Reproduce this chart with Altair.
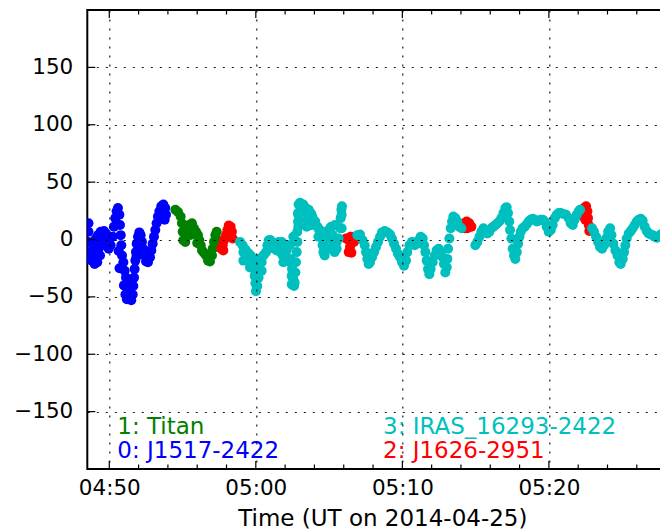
import altair as alt
import pandas as pd

# ---- data (time in minutes after 04:00 UT, value) ----
src_names = ["0: J1517-2422", "1: Titan", "2: J1626-2951", "3: IRAS_16293-2422"]
src_colors = ["#0000ff", "#008000", "#ff0000", "#00bfbf"]

blue = [(48.58,14.2),(48.58,6.8),(48.58,-2.1),(48.60,-11.0),(48.64,-16.9),(48.82,-18.4),(48.96,-5.0),
        (49.00,-21.3),(49.09,0.9),(49.18,-19.8),(49.23,3.8),(49.37,-13.9),(49.41,6.8),(49.46,-5.0),
        (49.55,2.4),(49.64,7.4),(49.78,5.3),(49.87,-2.1),(49.96,-8.0),(50.09,-5.0),(50.23,2.4),
        (50.32,11.2),(50.41,18.6),(50.50,24.6),(50.59,27.5),(50.69,21.6),(50.73,12.7),(50.78,3.8),
        (50.82,-5.0),(50.87,-13.9),(50.96,-19.8),(51.05,-27.2),(51.14,-33.2),(51.23,-39.1),
        (51.32,-43.5),(51.41,-49.4),(51.50,-53.0),(51.60,-48.0),(51.64,-40.6),(51.69,-33.2),
        (51.73,-25.8),(51.78,-18.4),(51.82,-11.0),(51.87,-3.6),(51.96,2.4),(52.05,6.2),(52.14,3.8),
        (52.23,-2.1),(52.32,-8.0),(52.41,-13.9),(52.51,-19.2),(52.64,-19.8),(52.78,-15.4),
        (52.87,-9.5),(52.96,-3.6),(53.05,2.4),(53.14,8.3),(53.23,14.2),(53.32,20.1),(53.42,24.6),
        (53.55,29.0),(53.69,30.5),(53.82,27.5),(53.87,21.6),(53.78,17.2),
        (49.05,-12.0),(49.28,-8.0),(50.64,-10.0),(50.70,-25.0),(51.00,-40.0),(51.10,-48.0),
        (51.20,-52.0),(51.85,-15.0),(52.00,-8.0),(52.70,-12.0)]

green = [(54.51,26.0),(54.69,24.0),(54.87,20.1),(54.96,14.2),(55.01,6.8),(55.05,-0.6),(55.19,-2.1),
         (55.33,5.3),(55.46,12.7),(55.64,14.2),(55.78,9.8),(55.92,6.8),(56.05,3.8),(56.15,-0.6),
         (56.24,-5.0),(56.33,-9.5),(56.46,-11.5),(56.60,-13.9),(56.74,-18.4),(56.87,-19.2),
         (57.01,-13.9),(57.06,-8.0),(57.15,-2.1),(57.24,3.8),(57.33,6.8),(57.42,-0.6),(57.46,-6.5),
         (55.10,8.0),(55.25,12.0),(55.55,4.0),(56.00,-3.0)]

red = [(57.65,-8.0),(57.74,-5.0),(57.78,-9.5),(57.83,-0.6),(57.97,3.8),(58.06,8.3),(58.15,12.1),
       (58.28,11.2),(58.37,6.8),(58.42,0.9),
       (66.15,0.9),(66.34,-0.6),(66.52,-2.1),(66.43,-6.5),(66.34,-11.0),(66.52,-11.5),(66.70,-2.1),
       (66.47,2.4),
       (74.21,14.2),(74.39,15.7),(74.57,14.2),(74.71,11.2),(74.44,9.8),(74.25,9.8),
       (82.36,20.1),(82.40,27.5),(82.49,17.2),(82.54,29.0),(82.63,24.6),(82.67,18.6),(82.72,12.7),
       (82.76,7.4),
       (88.09,-0.6),(88.22,-2.1)]

cyan = [(58.92,-2.1),(59.10,-5.0),(59.28,-8.6),(59.47,-11.5),(59.65,-13.9),(59.79,-18.4),(59.88,-24.3),
        (59.92,-31.7),(59.97,-38.2),(60.01,-45.0),(60.10,-40.6),(60.19,-33.2),(60.24,-25.8),
        (60.33,-19.8),(60.42,-15.4),(60.56,-13.3),(60.70,-11.0),(60.79,-5.0),(60.88,-0.6),
        (61.01,-0.6),(61.15,-5.0),(61.29,-8.0),(61.42,-5.0),(61.56,-2.1),(61.70,-4.4),(61.83,-8.0),
        (61.97,-11.0),(61.70,-11.0),(61.83,-13.9),(61.97,-12.4),(62.11,-9.5),(62.24,-5.0),
        (62.38,-16.9),(62.47,-25.8),(62.56,-34.6),(62.61,-40.6),(62.65,-37.6),(62.70,-28.7),
        (62.74,-19.8),(62.79,-11.0),(62.83,-2.1),(62.83,6.8),(62.88,15.7),(62.88,23.1),(62.92,30.5),
        (63.02,32.0),(63.24,30.5),(63.42,27.5),(63.61,26.0),(63.74,23.1),(63.88,18.6),(63.70,14.2),
        (63.56,17.2),(64.06,15.7),(64.20,11.2),(64.33,8.3),(64.47,2.4),(64.56,-5.0),(64.61,-11.0),
        (64.70,-13.9),(64.84,-8.0),(64.93,0.9),(65.06,9.8),(65.15,11.2),(65.24,3.8),(65.29,-5.0),
        (65.38,-11.0),(65.52,-8.0),(65.65,0.9),(65.75,9.8),(65.79,18.6),(65.84,26.0),(65.88,29.0),
        (66.93,3.8),(67.11,4.4),(67.29,-0.6),(67.43,-5.0),(67.52,-11.0),(67.61,-16.9),(67.70,-21.3),
        (67.79,-19.8),(67.93,-15.4),(68.07,-11.0),(68.20,-6.5),(68.34,-2.1),(68.48,2.4),(68.61,6.2),
        (68.79,7.4),(68.98,6.2),(69.16,4.4),(69.29,0.9),(69.43,-3.6),(69.57,-8.0),(69.70,-12.4),
        (69.84,-15.4),(69.98,-19.8),(70.11,-22.8),(70.25,-18.4),(70.34,-11.0),(70.48,-5.0),
        (70.66,-2.1),(70.84,-5.0),(70.98,-3.6),(71.11,-0.6),(71.25,2.4),(71.39,0.9),(71.48,-5.0),
        (71.57,-11.0),(71.66,-18.4),(71.75,-25.8),(71.84,-30.2),(71.93,-25.8),(72.07,-19.8),
        (72.21,-13.9),(72.34,-9.5),(72.48,-8.0),(72.62,-11.0),(72.75,-15.4),(72.84,-21.3),
        (72.93,-28.7),(73.03,-24.3),(73.07,-16.9),(73.12,-8.0),(73.21,0.9),(73.30,9.8),(73.39,15.7),
        (73.48,20.1),(73.62,18.6),(73.75,15.7),(73.89,11.2),(74.03,9.8),
        (74.98,-5.0),(75.12,-2.1),(75.26,2.4),(75.39,6.8),(75.53,9.8),(75.67,7.4),(75.80,5.3),
        (75.94,6.8),(76.08,9.8),(76.21,11.2),(76.35,12.7),(76.49,14.2),(76.62,15.7),(76.76,18.6),
        (76.90,23.1),(77.03,27.5),(77.12,28.1),(77.21,23.1),(77.30,15.7),(77.35,8.3),(77.44,0.9),
        (77.53,-8.0),(77.62,-13.9),(77.71,-16.9),(77.81,-11.0),(77.90,-3.6),(77.99,2.4),(78.08,6.8),
        (78.21,9.8),(78.35,11.2),(78.49,13.3),(78.62,15.7),(78.76,17.2),(78.90,18.1),(79.03,17.2),
        (79.17,15.7),(79.31,16.3),(79.44,17.2),(79.58,17.2),(79.72,15.7),(79.85,11.2),(79.99,6.8),
        (80.13,8.3),(80.26,12.7),(80.40,18.6),(80.54,21.6),(80.67,23.1),(80.81,23.1),(80.99,22.2),
        (81.17,21.6),(81.35,18.6),(81.49,14.2),(81.63,12.7),(81.76,17.2),(81.90,21.6),(82.04,24.6),
        (82.13,26.0),
        (82.95,9.8),(83.08,6.8),(83.22,2.4),(83.36,-2.1),(83.49,-6.5),(83.63,-8.0),(83.77,-5.0),
        (83.90,0.9),(84.04,6.8),(84.18,9.8),(84.27,3.8),(84.40,-3.6),(84.54,-9.5),(84.68,-13.9),
        (84.81,-19.8),(84.90,-21.3),(85.04,-16.9),(85.13,-11.0),(85.22,-5.0),(85.31,0.9),(85.45,5.3),
        (85.59,7.4),(85.72,9.8),(85.86,12.7),(86.00,15.7),(86.13,17.2),(86.27,18.1),(86.40,16.3),
        (86.54,11.2),(86.68,7.4),(86.81,5.3),(86.95,4.4),(87.09,3.8),(87.22,2.4),(87.36,1.5),
        (87.50,2.4),(87.63,4.4),(87.77,5.3),(87.91,2.4),
        # extra readings in the broad parts of the band (05:00-05:06)
        (59.15,-11.0),(59.15,-18.4),(59.60,-19.8),(59.60,-24.3),(59.94,-16.9),(60.06,-40.6),
        (60.40,-19.8),(60.40,-27.2),(60.85,-8.0),(60.97,-0.6),(61.42,-9.5),(61.76,-2.1),
        (61.88,-19.8),(62.33,-5.0),(62.33,-19.8),(62.45,-31.7),(62.45,-39.1),(62.56,2.4),
        (62.90,21.6),(62.90,11.2),(63.24,24.6),(63.47,17.2),(63.47,11.2),(63.81,21.6),
        (63.81,12.7),(64.27,9.8),(64.27,2.4),(64.61,6.8),(64.61,-3.6),(65.06,3.8),(65.06,-8.0),
        (65.40,12.7),(65.52,-2.1),(65.86,21.6),(65.86,9.8)]

# legend-like labels placed in data coordinates
legend_t = [50.55, 50.55, 68.68, 68.68]
legend_v = [-184.3, -163.7, -184.3, -163.7]

# axes
x_tick_values = [50, 60, 70, 80]
x_tick_labels = ["04:50", "05:00", "05:10", "05:20"]
x_minor_ticks = [52, 54, 56, 58, 62, 64, 66, 68, 72, 74, 76, 78, 82, 84, 86, 88]
y_tick_values = [-150, -100, -50, 0, 50, 100, 150]
x_domain = [48.5, 87.74]
y_domain = [-200, 200]

# ---- build tables ----
rows = []
for name, series in zip(src_names, [blue, green, red, cyan]):
    for t, v in series:
        rows.append({"source": name, "t": t, "v": v})
df_pts = pd.DataFrame(rows)
df_leg = pd.DataFrame({"source": src_names, "t": legend_t, "v": legend_v})
df_xmaj = pd.DataFrame({"t": x_tick_values})
df_xmin = pd.DataFrame({"t": [t for t in x_minor_ticks if t < x_domain[1]]})
df_ymaj = pd.DataFrame({"v": y_tick_values})

label_expr = ""
for val, lab in zip(x_tick_values, x_tick_labels):
    label_expr += f"datum.value == {val} ? '{lab}' : "
label_expr += "''"

FONT = "DejaVu Sans"
H = 459
W = 575

x_scale = alt.Scale(domain=x_domain, nice=False, zero=False)
y_scale = alt.Scale(domain=y_domain, nice=False, zero=False)
color_scale = alt.Scale(domain=src_names, range=src_colors)

grid_kw = dict(grid=True, gridColor="black", gridDash=[2, 7], gridWidth=1.2, gridOpacity=0.9)

x_axis = alt.Axis(values=x_tick_values, labelExpr=label_expr, title="Time (UT on 2014-04-25)",
                  ticks=False, tickSize=0, domain=False, labelFlush=False,
                  labelFont=FONT, labelFontSize=21.5, labelColor="black", labelPadding=9,
                  titleFont=FONT, titleFontSize=23, titleFontWeight="normal", titleColor="black",
                  titleX=295, titleY=57, titleBaseline="alphabetic", titleAlign="center",
                  zindex=1, **grid_kw)
y_axis = alt.Axis(values=y_tick_values, title=None, ticks=False, tickSize=0, domain=False,
                  labelFont=FONT, labelFontSize=21.5, labelColor="black", labelPadding=14.5,
                  zindex=1, **grid_kw)

X = alt.X("t:Q", scale=x_scale, axis=x_axis, title="Time (UT on 2014-04-25)")
Y = alt.Y("v:Q", scale=y_scale, axis=y_axis, title=None)

points = alt.Chart(df_pts).mark_circle(size=100, opacity=1, clip=True).encode(
    x=X, y=Y,
    color=alt.Color("source:N", scale=color_scale, legend=None),
)

def xticks(df, y0, y1):
    return alt.Chart(df).mark_rule(color="black", strokeWidth=1.2).encode(
        x=X, y=alt.value(y0), y2=alt.value(y1))

bot_major = xticks(df_xmaj, H, H - 8)
bot_minor = xticks(df_xmin, H, H - 4.5)
top_major = xticks(df_xmaj, 0, 8)
top_minor = xticks(df_xmin, 0, 4.5)

left_major = alt.Chart(df_ymaj).mark_rule(color="black", strokeWidth=1.2).encode(
    y=Y, x=alt.value(0), x2=alt.value(8))

labels = alt.Chart(df_leg).mark_text(align="left", baseline="middle", font=FONT, fontSize=23).encode(
    x=X, y=Y,
    text="source:N",
    color=alt.Color("source:N", scale=color_scale, legend=None),
)

chart = alt.layer(points, bot_major, bot_minor, top_major, top_minor, left_major, labels).properties(
    width=W, height=H,
    autosize=alt.AutoSizeParams(type="none"),
    padding={"left": 79.3, "top": 2, "right": -2, "bottom": 64},
).configure_view(stroke="black", strokeWidth=2)

chart.save("out.html", embed_options={"renderer": "svg", "actions": False})
